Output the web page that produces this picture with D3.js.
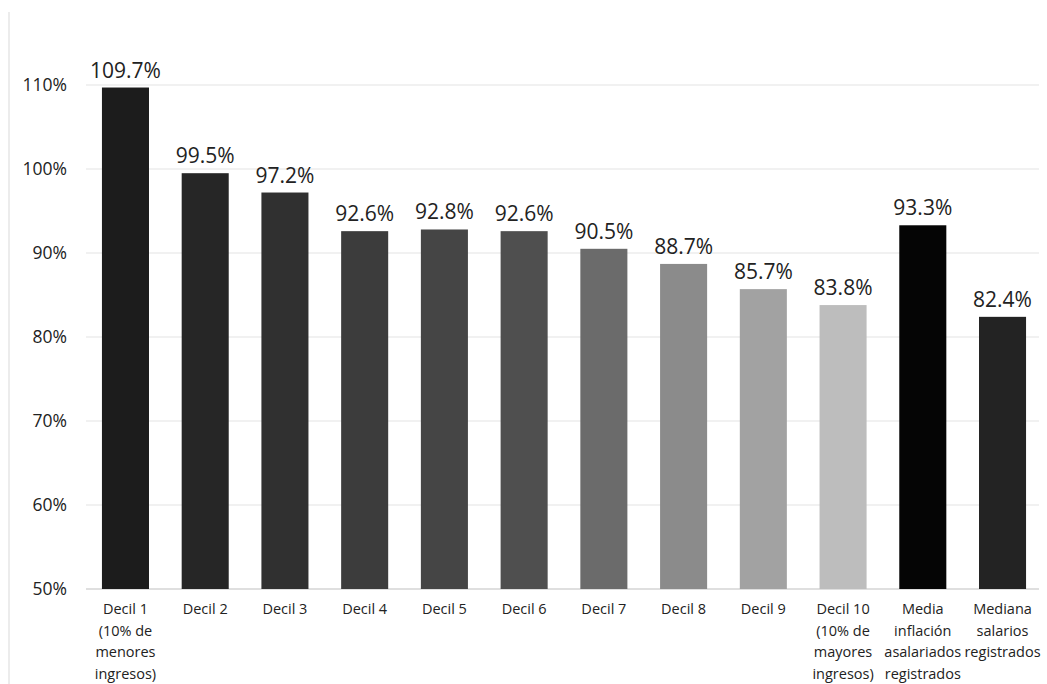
<!DOCTYPE html>
<html>
<head>
<meta charset="utf-8">
<script src="https://cdn.jsdelivr.net/npm/d3@7"></script>
<style>
  body { margin: 0; background: #fff; }
  svg text { font-family: "Open Sans", "Noto Sans", sans-serif; fill: #222; }
</style>
</head>
<body>
<svg id="chart" width="1047" height="684"></svg>
<script>
// Category labels (each line of the wrapped label)
const categories = [
    ["Decil 1", "(10% de", "menores", "ingresos)"],
    ["Decil 2"],
    ["Decil 3"],
    ["Decil 4"],
    ["Decil 5"],
    ["Decil 6"],
    ["Decil 7"],
    ["Decil 8"],
    ["Decil 9"],
    ["Decil 10", "(10% de", "mayores", "ingresos)"],
    ["Media", "inflación", "asalariados", "registrados"],
    ["Mediana", "salarios", "registrados"]
];
const values = [109.7, 99.5, 97.2, 92.6, 92.8, 92.6, 90.5, 88.7, 85.7, 83.8, 93.3, 82.4];
const barColors = ["#1c1c1c", "#262626", "#303030", "#3c3c3c", "#454545", "#4f4f4f",
                   "#6b6b6b", "#8b8b8b", "#a2a2a2", "#bdbdbd", "#050505", "#232323"];
const yTicks = [50, 60, 70, 80, 90, 100, 110];

const svg = d3.select("#chart");
const margin = { top: 85, left: 86, right: 5, bottom: 95 };
const W = 1047, H = 684;

const x = d3.scaleBand()
    .domain(d3.range(values.length))
    .range([margin.left, W - margin.right])
    .paddingInner(0.41)
    .paddingOuter(0.2);

const y = d3.scaleLinear()
    .domain([50, 110])
    .range([H - margin.bottom, margin.top]);

// faint frame line at left
svg.append("line")
    .attr("x1", 9).attr("x2", 9)
    .attr("y1", 12).attr("y2", H)
    .attr("stroke", "#e6e6e6").attr("stroke-width", 1.5);

// gridlines
svg.append("g")
    .selectAll("line")
    .data(yTicks)
    .join("line")
    .attr("x1", margin.left).attr("x2", W - 8)
    .attr("y1", d => y(d)).attr("y2", d => y(d))
    .attr("stroke", d => d === 50 ? "#d4d4d4" : "#ececec")
    .attr("stroke-width", 1.5);

// y axis labels
const yAxis = d3.axisLeft(y)
    .tickValues(yTicks)
    .tickFormat(d => d + "%")
    .tickSize(0)
    .tickPadding(19);

svg.append("g")
    .attr("transform", `translate(${margin.left},0)`)
    .call(yAxis)
    .call(g => g.select(".domain").remove())
    .call(g => g.selectAll("text")
        .style("font-size", "17.5px")
        .style("font-family", "'Open Sans', sans-serif")
        .attr("fill", "#333"));

// bars
svg.append("g")
    .selectAll("rect")
    .data(values)
    .join("rect")
    .attr("x", (d, i) => x(i))
    .attr("width", x.bandwidth())
    .attr("y", d => y(d))
    .attr("height", d => y(50) - y(d))
    .attr("fill", (d, i) => barColors[i]);

// value labels
svg.append("g")
    .selectAll("text")
    .data(values)
    .join("text")
    .attr("x", (d, i) => x(i) + x.bandwidth() / 2)
    .attr("y", d => y(d) - 10)
    .attr("text-anchor", "middle")
    .style("font-size", "21px")
    .text(d => d.toFixed(1) + "%");

// category labels
const catG = svg.append("g")
    .selectAll("text")
    .data(categories)
    .join("text")
    .attr("x", (d, i) => x(i) + x.bandwidth() / 2)
    .attr("y", y(50) + 25)
    .attr("text-anchor", "middle")
    .style("font-size", "14.5px")
    .attr("fill", "#333");

catG.selectAll("tspan")
    .data(d => d)
    .join("tspan")
    .attr("x", function() { return d3.select(this.parentNode).attr("x"); })
    .attr("dy", (d, i) => i === 0 ? 0 : 21.7)
    .text(d => d);
</script>
</body>
</html>
